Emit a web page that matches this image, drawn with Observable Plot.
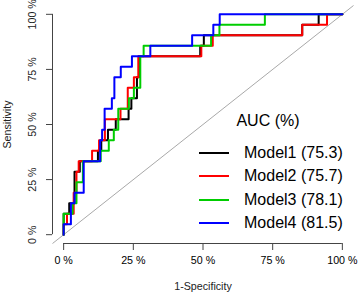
<!DOCTYPE html>
<html>
<head>
<meta charset="utf-8">
<script src="https://cdn.jsdelivr.net/npm/d3@7"></script>
<script src="https://cdn.jsdelivr.net/npm/@observablehq/plot@0.6"></script>
<style>
  html, body { margin: 0; padding: 0; background: #fff; }
  #chart { position: relative; width: 358px; height: 293px; font-family: "Liberation Sans", Arial, sans-serif; }
  #legend { position: absolute; left: 0; top: 0; width: 358px; height: 293px; pointer-events: none; }
  .lg-title, .lg-text { position: absolute; font-size: 16px; line-height: 16px; color: #000; white-space: nowrap; }
  .lg-swatch { position: absolute; height: 0; }
</style>
</head>
<body>
<div id="chart"><div id="legend"></div></div>
<script>
// ---- data ----
const models = ["Model1", "Model2", "Model3", "Model4"];
const aucValues = [75.3, 75.7, 78.1, 81.5];
const modelColors = ["#000000", "#FF0000", "#00CD00", "#0000FF"];
const xTicks = [0, 25, 50, 75, 100];
const yTicks = [0, 25, 50, 75, 100];
const xLabel = "1-Specificity";
const yLabel = "Sensitivity";
const legendTitle = "AUC (%)";

// ROC points [1-specificity %, sensitivity %]
const model1 = [[0,0],[0,9.52],[2,9.52],[2,14.29],[3.9,14.29],[3.9,28.57],[5.8,28.57],[5.8,33.33],[12.3,33.33],[12.3,38.1],[13.5,38.1],[13.5,42.86],[15.9,42.86],[15.9,47.62],[18.7,47.62],[18.7,52.38],[23.3,52.38],[23.3,57.14],[24.3,57.14],[24.3,61.9],[26.3,61.9],[26.3,71.43],[27,71.43],[27,80.95],[49,80.95],[49,85.71],[50.3,85.71],[50.3,90.48],[85.6,90.48],[85.6,95.24],[91.5,95.24],[91.5,100],[100,100]];
const model2 = [[0,0],[0,4.76],[1.2,4.76],[1.2,9.52],[3.6,9.52],[3.6,19.05],[4.6,19.05],[4.6,28.57],[5.4,28.57],[5.4,33.33],[10.2,33.33],[10.2,38.1],[12.7,38.1],[12.7,42.86],[14.8,42.86],[14.8,52.38],[20.4,52.38],[20.4,57.14],[23,57.14],[23,66.67],[25.2,66.67],[25.2,71.43],[26.8,71.43],[26.8,80.95],[49.4,80.95],[49.4,85.71],[53.5,85.71],[53.5,90.48],[85.6,90.48],[85.6,95.24],[94.5,95.24],[94.5,100],[100,100]];
const model3 = [[0,0],[0,9.52],[3.2,9.52],[3.2,14.29],[4.6,14.29],[4.6,23.81],[6.9,23.81],[6.9,33.33],[13.3,33.33],[13.3,38.1],[16.2,38.1],[16.2,42.86],[18,42.86],[18,47.62],[19.6,47.62],[19.6,57.14],[23.4,57.14],[23.4,61.9],[25.2,61.9],[25.2,66.67],[27.5,66.67],[27.5,80.95],[28.7,80.95],[28.7,85.71],[52.9,85.71],[52.9,90.48],[55.9,90.48],[55.9,95.24],[72.2,95.24],[72.2,100],[100,100]];
const model4 = [[0,0],[0,4.76],[2.6,4.76],[2.6,14.29],[3.9,14.29],[3.9,19.05],[7.2,19.05],[7.2,33.33],[13.1,33.33],[13.1,42.86],[13.8,42.86],[13.8,47.62],[14.7,47.62],[14.7,57.14],[17.3,57.14],[17.3,61.9],[18.2,61.9],[18.2,71.43],[20.5,71.43],[20.5,76.19],[24.5,76.19],[24.5,80.95],[31.1,80.95],[31.1,85.71],[46.1,85.71],[46.1,90.48],[53.7,90.48],[53.7,95.24],[56,95.24],[56,100],[100,100]];

// ---- build ----
const curves = [model1, model2, model3, model4];
const rows = curves.flatMap((pts, i) => pts.map(([fpr, tpr]) => ({model: models[i], fpr, tpr})));
const domain = [-4, 104];
const pct = d => `${d} %`;
const font = "'Liberation Sans', Arial, sans-serif";

const chart = Plot.plot({
  width: 358,
  height: 293,
  marginLeft: 52,
  marginRight: 5,
  marginTop: 5,
  marginBottom: 50,
  x: {domain},
  y: {domain},
  color: {domain: models, range: modelColors},
  style: {fontFamily: font, fontSize: "10.7px", background: "white", color: "black"},
  marks: [
    Plot.link([0], {x1: domain[0], y1: domain[0], x2: domain[1], y2: domain[1], stroke: "#A9A9A9", strokeWidth: 1}),
    Plot.line(rows, {x: "fpr", y: "tpr", z: "model", stroke: "model", strokeWidth: 2, strokeLinejoin: "round", strokeLinecap: "round"}),
    Plot.ruleX([domain[0]], {y1: yTicks[0], y2: yTicks[yTicks.length - 1], stroke: "#444"}),
    Plot.ruleY([domain[0]], {x1: xTicks[0], x2: xTicks[xTicks.length - 1], stroke: "#444"}),
    Plot.axisX({ticks: xTicks, tickSize: 7, tickPadding: 6, tickFormat: pct, label: null, fontSize: 10.7, stroke: "#444"}),
    Plot.axisY({ticks: yTicks, tickSize: 6, tickFormat: () => "", label: null, stroke: "#444"}),
    Plot.text(yTicks, {x: domain[0], y: d => d, text: pct, rotate: -90, dx: -20, fontSize: 10.7, textAnchor: "middle", lineAnchor: "middle", fill: "#222"}),
    Plot.text([yLabel], {frameAnchor: "left", text: d => d, rotate: -90, dx: -45, fontSize: 10.7, textAnchor: "middle", lineAnchor: "middle", fill: "#222"}),
    Plot.text([xLabel], {frameAnchor: "bottom", text: d => d, dy: 43, fontSize: 10.7, textAnchor: "middle", lineAnchor: "middle", fill: "#222"})
  ]
});
document.getElementById("chart").insertBefore(chart, document.getElementById("legend"));

// legend overlay
const legend = document.getElementById("legend");
const title = document.createElement("div");
title.className = "lg-title";
title.textContent = legendTitle;
title.style.left = "268px";
title.style.top = "113px";
title.style.transform = "translateX(-50%)";
legend.appendChild(title);
models.forEach((m, i) => {
  const cy = 153.3 + i * 23.1;
  const sw = document.createElement("div");
  sw.className = "lg-swatch";
  sw.style.left = "199px";
  sw.style.width = "30px";
  sw.style.top = (cy - 1) + "px";
  sw.style.borderTop = `2px solid ${modelColors[i]}`;
  legend.appendChild(sw);
  const tx = document.createElement("div");
  tx.className = "lg-text";
  tx.textContent = `${m} (${aucValues[i].toFixed(1)})`;
  tx.style.left = "244px";
  tx.style.top = (cy - 8) + "px";
  legend.appendChild(tx);
});
</script>
</body>
</html>
